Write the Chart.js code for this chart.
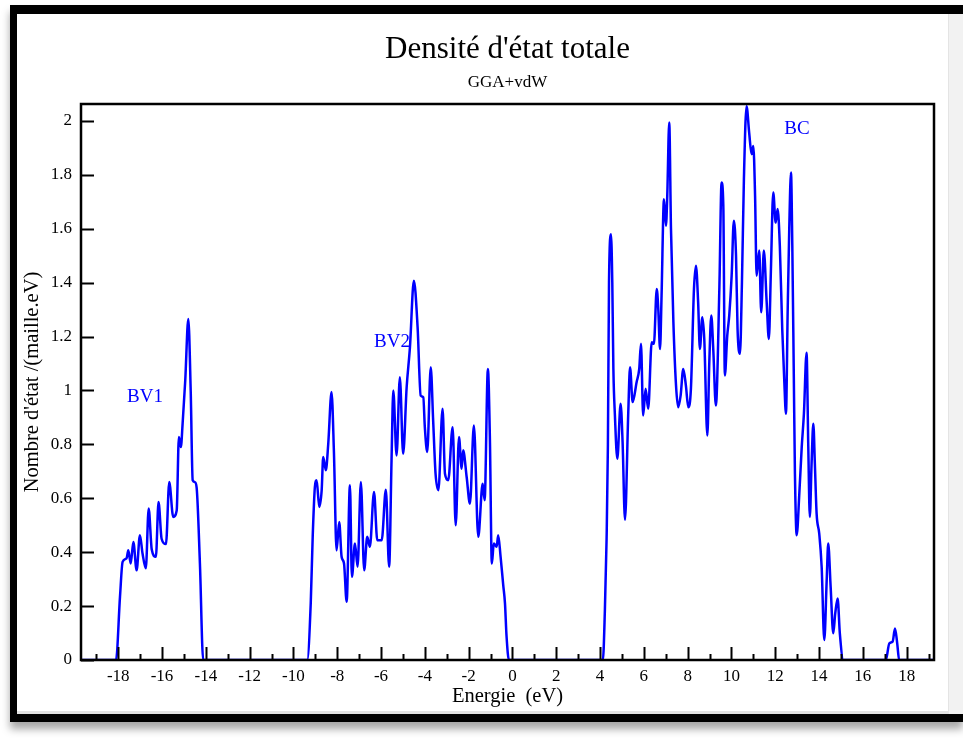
<!DOCTYPE html>
<html>
<head>
<meta charset="utf-8">
<title>Densité d'état totale</title>
<script src="https://cdn.jsdelivr.net/npm/chart.js@4.4.1/dist/chart.umd.min.js"></script>
<style>
  body { margin: 0; background: #fff; width: 963px; height: 738px; overflow: hidden; position: relative; }
  #frame {
    position: absolute; left: 10px; top: 5px; width: 953px; height: 717px;
    box-sizing: border-box; border-top: 9px solid #000; border-left: 7px solid #000; border-bottom: 8px solid #000;
    box-shadow: 0 7px 8px rgba(0,0,0,0.35); background: #fff;
  }
  #stripe { position: absolute; left: 948px; top: 14px; width: 15px; height: 700px; background: #f2f2f2; border-left: 1px solid #e4e4e4; }
  #inner { position: absolute; left: 17px; top: 711px; width: 931px; height: 3px; background: #e2e2e2; }
  #c { position: absolute; left: 17px; top: 14px; }
</style>
</head>
<body>
<div id="frame"></div>
<div id="stripe"></div>
<div id="inner"></div>
<canvas id="c" width="931" height="700"></canvas>
<script>
// densité d'états totale (GGA+vdW)
const energy = [
  -19.7, -18.1, -17.92, -17.80, -17.62, -17.54, -17.43, -17.31, -17.16, -17.01, -16.89, -16.74, -16.61, -16.47,
  -16.28, -16.16, -16.02, -15.82, -15.67, -15.49, -15.33, -15.23, -15.14, -15.06, -14.94, -14.80, -14.69, -14.60,
  -14.50, -14.42, -14.27, -14.12,
  -9.37, -9.21, -9.12, -9.02, -8.94, -8.82, -8.71, -8.64, -8.52, -8.41, -8.26, -8.15, -8.03, -7.91, -7.80, -7.69,
  -7.57, -7.42, -7.33, -7.19, -7.07, -6.92, -6.77, -6.63, -6.51, -6.32, -6.17, -5.97, -5.78, -5.63, -5.52, -5.44,
  -5.29, -5.14, -4.99, -4.83, -4.68, -4.50, -4.33, -4.19, -4.07, -4.00, -3.89, -3.73, -3.62, -3.51, -3.38, -3.19,
  -3.08, -2.93, -2.73, -2.59, -2.44, -2.32, -2.25, -2.09, -1.94, -1.76, -1.56, -1.36, -1.27, -1.12, -1.03, -0.94,
  -0.85, -0.72, -0.65, -0.54, -0.42, -0.34, -0.27, -0.16,
  4.13, 4.22, 4.30, 4.36, 4.41, 4.50, 4.56, 4.61, 4.68, 4.79, 4.94, 5.03, 5.14, 5.29, 5.37, 5.49, 5.67, 5.79,
  5.87, 5.97, 6.08, 6.20, 6.36, 6.46, 6.59, 6.66, 6.74, 6.81, 6.92, 7.01, 7.07, 7.16, 7.24, 7.35, 7.47, 7.57,
  7.68, 7.80, 7.92, 8.03, 8.15, 8.29, 8.38, 8.48, 8.56, 8.67, 8.76, 8.90, 8.99, 9.08, 9.17, 9.29, 9.45, 9.55,
  9.63, 9.70, 9.81, 9.90, 10.01, 10.11, 10.21, 10.28, 10.39, 10.48, 10.57, 10.69, 10.81, 10.92, 11.00, 11.08,
  11.15, 11.27, 11.36, 11.48, 11.61, 11.71, 11.80, 11.91, 12.02, 12.11, 12.21, 12.32, 12.41, 12.49, 12.57, 12.64,
  12.72, 12.78, 12.85, 12.90, 12.98, 13.10, 13.21, 13.31, 13.43, 13.51, 13.58, 13.66, 13.74, 13.81, 13.89, 14.01,
  14.12, 14.24, 14.35, 14.42, 14.53, 14.65, 14.74, 14.85, 14.95, 15.11,
  17.05, 17.21, 17.36, 17.47, 17.57, 17.66, 19.25
];
const dos = [
  0, 0, 0.234, 0.364, 0.377, 0.407, 0.358, 0.438, 0.333, 0.463, 0.395, 0.340, 0.562, 0.410,
  0.383, 0.586, 0.450, 0.430, 0.660, 0.531, 0.555, 0.827, 0.790, 0.877, 1.037, 1.265, 0.997, 0.667,
  0.660, 0.640, 0.358, 0,
  0, 0.21, 0.457, 0.642, 0.667, 0.568, 0.630, 0.753, 0.704, 0.802, 0.994, 0.77, 0.407, 0.512, 0.383, 0.358,
  0.216, 0.648, 0.309, 0.432, 0.346, 0.660, 0.333, 0.457, 0.420, 0.623, 0.444, 0.444, 0.632, 0.346, 0.741, 1.000,
  0.759, 1.049, 0.765, 1.012, 1.160, 1.407, 1.235, 0.981, 0.975, 0.864, 0.772, 1.086, 0.889, 0.691, 0.630, 0.932,
  0.691, 0.667, 0.864, 0.500, 0.827, 0.710, 0.778, 0.679, 0.580, 0.870, 0.457, 0.654, 0.593, 1.080, 0.827, 0.358,
  0.432, 0.420, 0.463, 0.383, 0.278, 0.21, 0.09, 0,
  0, 0.18, 0.45, 0.80, 1.401, 1.580, 1.401, 1.080, 0.907, 0.747, 0.951, 0.809, 0.52, 0.920, 1.086, 0.957, 1.031, 1.080,
  1.173, 0.907, 1.006, 0.932, 1.179, 1.173, 1.377, 1.302, 1.154, 1.352, 1.710, 1.611, 1.722, 1.994, 1.599, 1.253, 1.019, 0.938,
  0.981, 1.080, 1.019, 0.938, 1.006, 1.377, 1.463, 1.327, 1.154, 1.272, 1.191, 0.833, 1.105, 1.278, 1.154, 0.944, 1.383, 1.772,
  1.685, 1.056, 1.204, 1.278, 1.426, 1.630, 1.500, 1.228, 1.136, 1.401, 1.784, 2.055, 1.957, 1.877, 1.907, 1.722,
  1.426, 1.519, 1.290, 1.519, 1.327, 1.191, 1.438, 1.735, 1.623, 1.673, 1.537, 1.228, 1.043, 0.914, 1.302, 1.599,
  1.809, 1.537, 1.043, 0.691, 0.463, 0.617, 0.790, 0.914, 1.140, 0.790, 0.531, 0.728, 0.877, 0.728, 0.543, 0.469,
  0.346, 0.074, 0.296, 0.432, 0.272, 0.099, 0.173, 0.228, 0.099, 0,
  0, 0.062, 0.068, 0.117, 0.062, 0, 0
];

const xTickValues = [-19, -18, -17, -16, -15, -14, -13, -12, -11, -10, -9, -8, -7, -6, -5, -4, -3, -2, -1,
  0, 1, 2, 3, 4, 5, 6, 7, 8, 9, 10, 11, 12, 13, 14, 15, 16, 17, 18, 19];
const xTickLabels = [-18, -16, -14, -12, -10, -8, -6, -4, -2, 0, 2, 4, 6, 8, 10, 12, 14, 16, 18];
const yTickValues = [0, 0.2, 0.4, 0.6, 0.8, 1, 1.2, 1.4, 1.6, 1.8, 2];
const yTickLabels = ['0', '0.2', '0.4', '0.6', '0.8', '1', '1.2', '1.4', '1.6', '1.8', '2'];

// étiquettes des bandes
const bandNames = ['BV1', 'BV2', 'BC'];
const bandE = [-16.78, -5.50, 12.99];
const bandY = [0.974, 1.18, 1.97];

const serif = '"Liberation Serif", "Times New Roman", serif';
const blue = '#0000ff';

const boxAndTicks = {
  id: 'boxAndTicks',
  afterDatasetsDraw(chart) {
    const { ctx, chartArea: a, scales: { x, y } } = chart;
    ctx.save();
    ctx.strokeStyle = '#000';
    ctx.lineWidth = 2;
    ctx.beginPath();
    x.ticks.forEach(t => {
      const px = Math.round(x.getPixelForValue(t.value)) + 0.5;
      const len = t.value % 2 === 0 ? 13 : 6;
      ctx.moveTo(px, a.bottom);
      ctx.lineTo(px, a.bottom - len);
    });
    y.ticks.forEach(t => {
      const py = Math.round(y.getPixelForValue(t.value)) + 0.5;
      ctx.moveTo(a.left, py);
      ctx.lineTo(a.left + 13, py);
    });
    ctx.stroke();
    ctx.lineWidth = 2.5;
    ctx.strokeRect(a.left, a.top, a.right - a.left, a.bottom - a.top);

    ctx.fillStyle = blue;
    ctx.font = '19px ' + serif;
    ctx.textAlign = 'center';
    ctx.textBaseline = 'middle';
    bandNames.forEach((n, i) => {
      ctx.fillText(n, x.getPixelForValue(bandE[i]), y.getPixelForValue(bandY[i]));
    });
    ctx.restore();
  }
};

new Chart(document.getElementById('c'), {
  type: 'line',
  data: {
    datasets: [{
      data: energy.map((e, i) => ({ x: e, y: dos[i] })),
      borderColor: blue,
      borderWidth: 2.5,
      pointRadius: 0,
      cubicInterpolationMode: 'monotone',
      fill: false
    }]
  },
  options: {
    responsive: false,
    animation: false,
    devicePixelRatio: 1,
    layout: { padding: { left: 0, right: 14, top: 0, bottom: 0 } },
    plugins: {
      legend: { display: false },
      tooltip: { enabled: false },
      title: {
        display: true, text: "Densité d'état totale", color: '#000', fullSize: false,
        font: { family: serif, size: 31, weight: 'normal' },
        padding: { top: 17.5, bottom: 0 }
      },
      subtitle: {
        display: true, text: 'GGA+vdW', color: '#000', fullSize: false,
        font: { family: serif, size: 17, weight: 'normal' },
        padding: { top: 3.8, bottom: 11.1 }
      }
    },
    scales: {
      x: {
        type: 'linear', min: -19.7, max: 19.25,
        grid: { display: false, drawTicks: false },
        border: { display: false },
        afterBuildTicks: s => { s.ticks = xTickValues.map(v => ({ value: v })); },
        afterFit: s => { s.height = 54; },
        ticks: {
          autoSkip: false, maxRotation: 0, padding: 6, color: '#000',
          font: { family: serif, size: 17 },
          callback: v => xTickLabels.includes(v) ? String(v) : ''
        },
        title: {
          display: true, text: 'Energie  (eV)', color: '#000',
          font: { family: serif, size: 20.5 }, padding: { top: 0, bottom: 5.5 }
        }
      },
      y: {
        type: 'linear', min: 0, max: 2.063,
        grid: { display: false, drawTicks: false },
        border: { display: false },
        afterBuildTicks: s => { s.ticks = yTickValues.map(v => ({ value: v })); },
        afterFit: s => { s.width = 64; },
        ticks: {
          autoSkip: false, padding: 9, color: '#000',
          font: { family: serif, size: 17 },
          callback: (v, i) => yTickLabels[i]
        },
        title: {
          display: true, text: "Nombre d'état /(maille.eV)", color: '#000',
          font: { family: serif, size: 20.5 }, padding: { top: 3.7, bottom: 0 }
        }
      }
    }
  },
  plugins: [boxAndTicks]
});
</script>
</body>
</html>
